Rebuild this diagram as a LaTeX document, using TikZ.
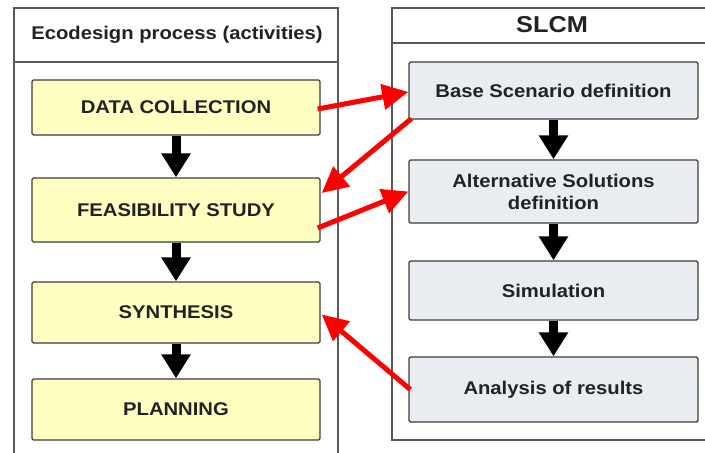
\documentclass[tikz,border=0pt]{standalone}
\usepackage{fontspec}
\setmainfont[FakeStretch=1.1]{Liberation Sans}
\usetikzlibrary{arrows.meta}
\definecolor{actfill}{HTML}{FFFFC2}
\definecolor{slcmfill}{HTML}{E9EDF2}
\definecolor{boxline}{HTML}{3C3C3C}
\definecolor{txt}{HTML}{222222}

\begin{document}
\begin{tikzpicture}[x=1pt,y=-1pt,
  panel/.style={draw=black!65, line width=1.4pt},
  boxbase/.style={draw=boxline, line width=1.4pt, rounded corners=1.5pt,
    inner sep=0pt, text=txt, align=center,
    font=\fontsize{18.4}{22}\selectfont\bfseries},
  act/.style={boxbase, fill=actfill, minimum width=288pt},
  slcm/.style={boxbase, fill=slcmfill, minimum width=289pt},
  head/.style={text=txt, inner sep=0pt},
  flow/.style={black, line width=9pt, -{Triangle[length=24pt,width=28pt]}},
  link/.style={red, line width=5pt, -{Triangle[length=26pt,width=25pt]}}
]
\clip (0,0) rectangle (705,453);
\fill[white] (0,0) rectangle (705,453);

% swimlane frames
\draw[panel] (14,470) -- (14,8) -- (338,8) -- (338,470);
\draw[panel] (14,62) -- (338,62);
\draw[panel] (392,440) rectangle (712,8);
\draw[panel] (392,43) -- (712,43);

\node[head, font=\fontsize{18.4}{22}\selectfont\bfseries] (lh) at (177,35) {Ecodesign process (activities)};
\node[head, font=\fontsize{23}{26}\selectfont\bfseries] (rh) at (552,25) {SLCM};

% ecodesign activities
\node[act, minimum height=55pt] (dc) at (176,107.5) {DATA COLLECTION};
\node[act, minimum height=64pt] (fs) at (176,210) {FEASIBILITY STUDY};
\node[act, minimum height=61pt] (sy) at (176,312.5) {SYNTHESIS};
\node[act, minimum height=61pt] (pl) at (176,409.5) {PLANNING};

% SLCM steps
\node[slcm, minimum height=57pt] (bs) at (553.5,90.5) {Base Scenario definition};
\node[slcm, minimum height=63pt] (as) at (553.5,191.5) {Alternative Solutions\\definition};
\node[slcm, minimum height=59pt] (si) at (553.5,290.5) {Simulation};
\node[slcm, minimum height=65pt] (an) at (553.5,389.5) {Analysis of results};

% sequence arrows
\draw[flow] (dc.south) -- (fs.north);
\draw[flow] (fs.south) -- (sy.north);
\draw[flow] (sy.south) -- (pl.north);
\draw[flow] (bs.south) -- (as.north);
\draw[flow] (as.south) -- (si.north);
\draw[flow] (si.south) -- (an.north);

% exchanges between the two processes
\draw[link] ([xshift=-3pt,yshift=-1.5pt]dc.east) -- ([yshift=-1.5pt]bs.west);
\draw[link] ([xshift=3pt,yshift=1pt]bs.south west) -- ([xshift=1pt,yshift=17pt]fs.east);
\draw[link] ([xshift=-3pt,yshift=-18pt]fs.east) -- (as.west);
\draw[link] ([xshift=2pt]an.west) -- ([xshift=1pt,yshift=-2pt]sy.east);
\end{tikzpicture}
\end{document}
